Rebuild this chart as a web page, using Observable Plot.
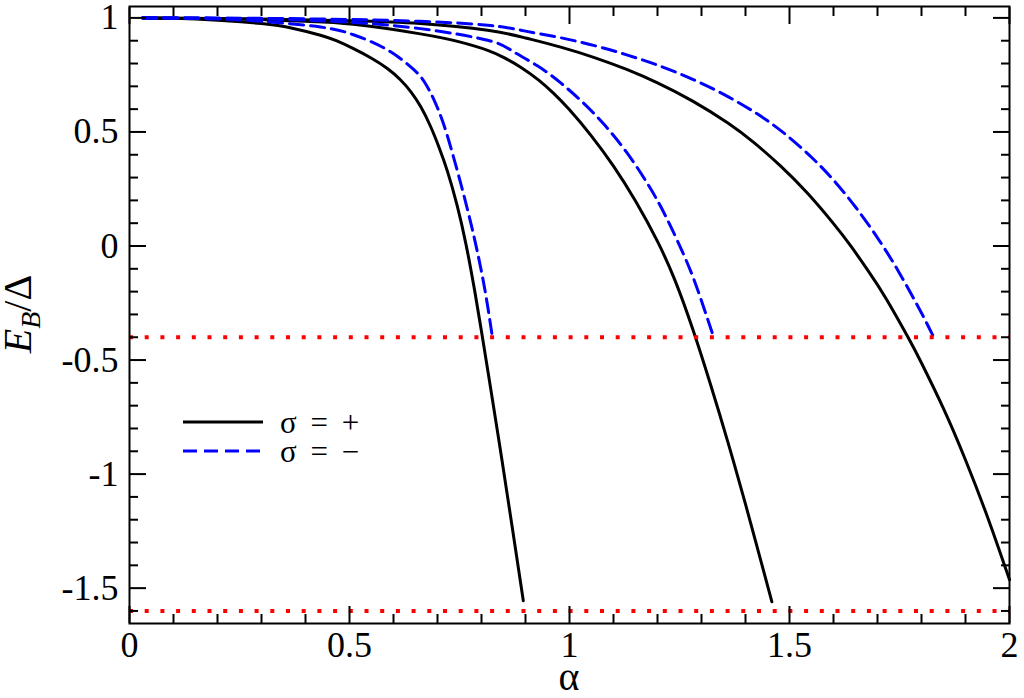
<!DOCTYPE html>
<html>
<head>
<meta charset="utf-8">
<script src="https://cdn.jsdelivr.net/npm/d3@7"></script>
<script src="https://cdn.jsdelivr.net/npm/@observablehq/plot@0.6"></script>
<style>
  html, body { margin: 0; padding: 0; background: #fff; }
  #chart svg { display: block; }
  #chart svg text, #chart svg tspan { font-family: "Liberation Serif", "Times New Roman", Times, serif !important; }
</style>
</head>
<body>
<div id="chart"></div>
<script>
// ---------- data ----------
const plus1Alpha  = [0.03, 0.1, 0.2, 0.3, 0.37, 0.434, 0.47, 0.509, 0.55, 0.586, 0.615, 0.64, 0.662, 0.684, 0.704, 0.723, 0.745, 0.765, 0.783, 0.80, 0.825, 0.847, 0.87, 0.895];
const plus1Energy = [1.0, 0.998, 0.99, 0.975, 0.955, 0.924, 0.90, 0.865, 0.823, 0.778, 0.73, 0.675, 0.61, 0.525, 0.43, 0.325, 0.175, 0.005, -0.18, -0.375, -0.675, -0.945, -1.235, -1.555];

const minus1Alpha  = [0.03, 0.1, 0.2, 0.3, 0.434, 0.509, 0.586, 0.645, 0.67, 0.691, 0.712, 0.732, 0.752, 0.772, 0.79, 0.808, 0.824];
const minus1Energy = [1.0, 0.999, 0.995, 0.985, 0.96, 0.926, 0.86, 0.775, 0.72, 0.645, 0.545, 0.42, 0.28, 0.13, -0.02, -0.195, -0.39];

const plus2Alpha  = [0.03, 0.2, 0.3, 0.4, 0.509, 0.661, 0.75, 0.814, 0.85, 0.889, 0.93, 0.964, 1.0, 1.05, 1.10, 1.15, 1.20, 1.24, 1.28, 1.32, 1.36, 1.40, 1.43, 1.46];
const plus2Energy = [1.0, 0.997, 0.993, 0.985, 0.972, 0.93, 0.895, 0.858, 0.827, 0.784, 0.727, 0.669, 0.597, 0.482, 0.35, 0.197, 0.02, -0.152, -0.364, -0.604, -0.86, -1.132, -1.345, -1.56];

const minus2Alpha  = [0.03, 0.2, 0.3, 0.4, 0.509, 0.661, 0.814, 0.87, 0.927, 0.98, 1.03, 1.08, 1.13, 1.18, 1.22, 1.26, 1.29, 1.326];
const minus2Energy = [1.0, 0.999, 0.996, 0.99, 0.98, 0.953, 0.902, 0.855, 0.79, 0.715, 0.63, 0.53, 0.41, 0.265, 0.125, -0.04, -0.185, -0.39];

const plus3Alpha  = [0.03, 0.3, 0.5, 0.661, 0.814, 0.90, 0.98, 1.06, 1.13, 1.20, 1.28, 1.36, 1.42, 1.48, 1.54, 1.60, 1.64, 1.68, 1.72, 1.77, 1.80, 1.85, 1.90, 1.95, 2.0];
const plus3Energy = [1.0, 0.995, 0.988, 0.976, 0.946, 0.912, 0.872, 0.824, 0.774, 0.715, 0.635, 0.539, 0.452, 0.35, 0.233, 0.098, -0.002, -0.112, -0.232, -0.402, -0.513, -0.713, -0.938, -1.188, -1.463];

const minus3Alpha  = [0.03, 0.3, 0.5, 0.661, 0.814, 0.90, 0.98, 1.06, 1.13, 1.20, 1.28, 1.36, 1.43, 1.49, 1.55, 1.60, 1.65, 1.70, 1.75, 1.80, 1.827];
const minus3Energy = [1.0, 0.998, 0.993, 0.985, 0.968, 0.942, 0.913, 0.877, 0.838, 0.793, 0.731, 0.655, 0.575, 0.491, 0.389, 0.289, 0.171, 0.036, -0.119, -0.294, -0.397];

const thresholds = [-0.4, -1.6];

const xMajorTicks = [0, 0.5, 1, 1.5, 2];
const xMinorTicks = [0.1, 0.2, 0.3, 0.4, 0.6, 0.7, 0.8, 0.9, 1.1, 1.2, 1.3, 1.4, 1.6, 1.7, 1.8, 1.9];
const yMajorTicks = [-1.5, -1, -0.5, 0, 0.5, 1];
const yMinorTicks = [-1.6, -1.4, -1.3, -1.2, -1.1, -0.9, -0.8, -0.7, -0.6, -0.4, -0.3, -0.2, -0.1, 0.1, 0.2, 0.3, 0.4, 0.6, 0.7, 0.8, 0.9];

const legendLabels = ["σ = +", "σ = −"];
const xLabel = "α";

// ---------- build tables ----------
function rows(alpha, energy, id) {
  return alpha.map((a, i) => ({alpha: a, energy: energy[i], id}));
}
const plusRows = [
  ...rows(plus1Alpha, plus1Energy, "p1"),
  ...rows(plus2Alpha, plus2Energy, "p2"),
  ...rows(plus3Alpha, plus3Energy, "p3")
];
const minusRows = [
  ...rows(minus1Alpha, minus1Energy, "m1"),
  ...rows(minus2Alpha, minus2Energy, "m2"),
  ...rows(minus3Alpha, minus3Energy, "m3")
];

const FONT = "Liberation Serif, Times New Roman, serif";
const fmt = d => String(d);

function tickAxisX(anchor, ticks, size) {
  return Plot.axisX(ticks, {anchor, tickSize: size, fill: "none", stroke: "#000", strokeWidth: 2, label: null});
}
function tickAxisY(anchor, ticks, size) {
  return Plot.axisY(ticks, {anchor, tickSize: size, fill: "none", stroke: "#000", strokeWidth: 2, label: null});
}

const plot = Plot.plot({
  width: 1024,
  height: 698,
  marginLeft: 129,
  marginRight: 15,
  marginTop: 6,
  marginBottom: 75,
  x: {domain: [0, 2], axis: null},
  y: {domain: [-1.655, 1.05], axis: null},
  style: {background: "#fff", color: "#000", fontFamily: FONT},
  marks: [
    Plot.line(plusRows, {x: "alpha", y: "energy", z: "id", stroke: "#000", strokeWidth: 3, curve: "natural"}),
    Plot.line(minusRows, {x: "alpha", y: "energy", z: "id", stroke: "#0000ff", strokeWidth: 3, strokeDasharray: "14,7", curve: "natural"}),
    Plot.ruleY(thresholds, {stroke: "#ff0000", strokeWidth: 4, strokeDasharray: "4,11.7"}),
    // ticks (inward) on all four sides
    tickAxisX("bottom", xMajorTicks, -17),
    tickAxisX("bottom", xMinorTicks, -9),
    tickAxisX("top", xMajorTicks, -17),
    tickAxisX("top", xMinorTicks, -9),
    tickAxisY("left", yMajorTicks, -17),
    tickAxisY("left", yMinorTicks, -9),
    tickAxisY("right", yMajorTicks, -17),
    tickAxisY("right", yMinorTicks, -9),
    Plot.axisX(xMajorTicks, {anchor: "bottom", tickFormat: fmt, tickSize: 0, tickPadding: 8, fontSize: 36, fontFamily: FONT, fill: "#000", label: null}),
    Plot.axisY(yMajorTicks, {anchor: "left", tickFormat: fmt, tickSize: 0, tickPadding: 11, fontSize: 36, fontFamily: FONT, fill: "#000", label: null}),
    Plot.frame({stroke: "#000", strokeWidth: 2})
  ]
});

const svg = d3.select(plot);

// x-axis label
svg.append("text")
  .attr("x", 569).attr("y", 690)
  .attr("text-anchor", "middle")
  .attr("font-size", 40)
  .attr("fill", "#000")
  .text(xLabel);

// y-axis label E_B/Δ
const yl = svg.append("text")
  .attr("transform", "translate(31,314) rotate(-90)")
  .attr("text-anchor", "middle")
  .attr("font-size", 40)
  .attr("fill", "#000");
yl.append("tspan").attr("font-style", "italic").text("E");
yl.append("tspan").attr("font-style", "italic").attr("font-size", 28).attr("dy", 9).text("B");
yl.append("tspan").attr("dy", -9).text("/Δ");

// legend
const lg = svg.append("g");
lg.append("line").attr("x1", 183).attr("x2", 263).attr("y1", 422).attr("y2", 422)
  .attr("stroke", "#000").attr("stroke-width", 3);
lg.append("line").attr("x1", 183).attr("x2", 263).attr("y1", 451).attr("y2", 451)
  .attr("stroke", "#0000ff").attr("stroke-width", 3).attr("stroke-dasharray", "14,7");
lg.selectAll("text.lbl").data(legendLabels).join("text")
  .attr("class", "lbl")
  .attr("x", 280)
  .attr("y", (d, i) => 433 + i * 29)
  .attr("text-anchor", "start")
  .attr("font-size", 31)
  .attr("word-spacing", 6)
  .attr("fill", "#000")
  .text(d => d);

document.getElementById("chart").append(plot);
</script>
</body>
</html>
